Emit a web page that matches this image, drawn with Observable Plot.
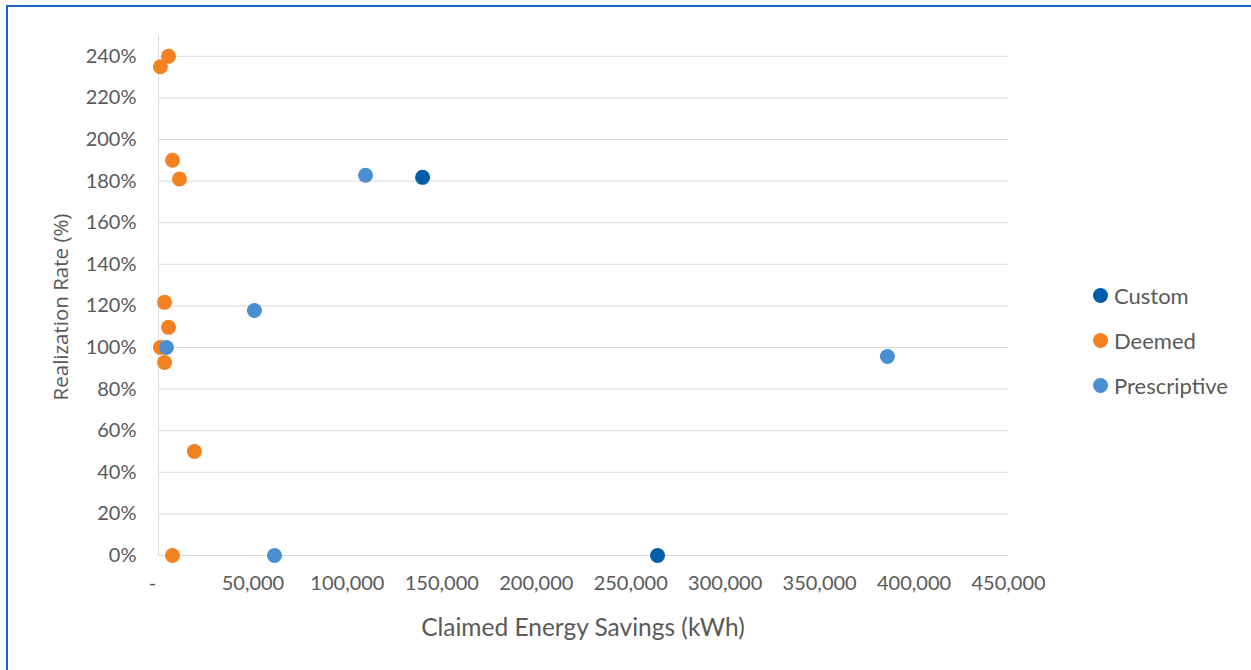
<!DOCTYPE html>
<html><head><meta charset="utf-8">
<script src="https://cdn.jsdelivr.net/npm/d3@7"></script>
<script src="https://cdn.jsdelivr.net/npm/@observablehq/plot@0.6"></script>
<style>
html,body{margin:0;padding:0;background:#fff;overflow:hidden;}
#wrap{position:relative;width:1251px;height:670px;overflow:hidden;}
#frame{position:absolute;left:6px;top:5px;width:1270px;height:720px;border:2px solid #1466BE;box-sizing:border-box;pointer-events:none;}
#chart{position:absolute;left:0;top:0;}
.ttl{position:absolute;color:#595959;white-space:nowrap;}
#xt{font-family:Lato,sans-serif;font-size:24.5px;left:583px;top:626px;transform:translate(-50%,-50%);}
#yt{font-family:"Open Sans",sans-serif;font-size:20.5px;left:60px;top:307px;transform:translate(-50%,-50%) rotate(-90deg);}
#legend{position:absolute;left:1093px;top:280px;font-family:Lato,sans-serif;font-size:22px;color:#595959;}
.li{display:flex;align-items:center;height:30px;margin-bottom:15px;}
.sw{width:15px;height:15px;border-radius:50%;margin-right:6px;}
</style></head>
<body>
<div id="wrap">
  <div id="chart"></div>
  <div class="ttl" id="xt"></div>
  <div class="ttl" id="yt"></div>
  <div id="legend"></div>
  <div id="frame"></div>
</div>
<script>
const categories = ["Custom", "Deemed", "Prescriptive"];
const colors = ["#005DAA", "#F4811F", "#4A8FD2"];

const customX = [139800, 264200];
const customY = [1.818, 0.0];

const deemedX = [5300, 1000, 7400, 11100, 3200, 5300, 1000, 3200, 19000, 7400];
const deemedY = [2.40, 2.35, 1.90, 1.81, 1.217, 1.097, 1.00, 0.928, 0.50, 0.0];

const prescriptiveX = [109600, 50800, 4200, 61400, 385900];
const prescriptiveY = [1.828, 1.178, 1.00, 0.0, 0.957];

const xTicks = [0, 50000, 100000, 150000, 200000, 250000, 300000, 350000, 400000, 450000];
const yTicks = [0, 0.2, 0.4, 0.6, 0.8, 1.0, 1.2, 1.4, 1.6, 1.8, 2.0, 2.2, 2.4];
const xTitle = "Claimed Energy Savings (kWh)";
const yTitle = "Realization Rate (%)";

const seriesX = [customX, deemedX, prescriptiveX];
const seriesY = [customY, deemedY, prescriptiveY];
const rows = [];
categories.forEach((c, i) => seriesX[i].forEach((x, j) => rows.push({cat: c, x, y: seriesY[i][j]})));

const xFmt = d => d === 0 ? "-" : d3.format(",")(d);

const plot = Plot.plot({
  width: 1251,
  height: 670,
  marginLeft: 158,
  marginRight: 243,
  marginTop: 35,
  marginBottom: 115,
  style: {fontFamily: "Lato, sans-serif", fontSize: "20px", color: "#595959", background: "transparent", overflow: "visible"},
  x: {domain: [0, 450000], label: null},
  y: {domain: [0, 2.5], label: null},
  color: {domain: categories, range: colors},
  marks: [
    Plot.ruleY(yTicks, {stroke: "#D9D9D9", strokeWidth: 1}),
    Plot.ruleX([0], {y1: 0, y2: 2.5, stroke: "#D9D9D9", strokeWidth: 1}),
    Plot.axisX(xTicks.filter(d => d !== 0), {tickFormat: xFmt, tickSize: 0, tickPadding: 20, label: null, fill: "#595959"}),
    Plot.axisX([0], {tickFormat: xFmt, tickSize: 0, tickPadding: 20, label: null, fill: "#595959", dx: -6}),
    Plot.axisY(yTicks, {tickFormat: d => d3.format(".0%")(d), tickSize: 0, tickPadding: 22, label: null, fill: "#595959"}),
    Plot.dot(rows, {x: "x", y: "y", fill: "cat", r: 7.5, stroke: null})
  ]
});
document.getElementById("chart").appendChild(plot);
document.getElementById("xt").textContent = xTitle;
document.getElementById("yt").textContent = yTitle;
const lg = document.getElementById("legend");
categories.forEach((c, i) => {
  const d = document.createElement("div");
  d.className = "li";
  d.innerHTML = `<span class="sw" style="background:${colors[i]}"></span><span>${c}</span>`;
  lg.appendChild(d);
});
</script>
</body></html>
